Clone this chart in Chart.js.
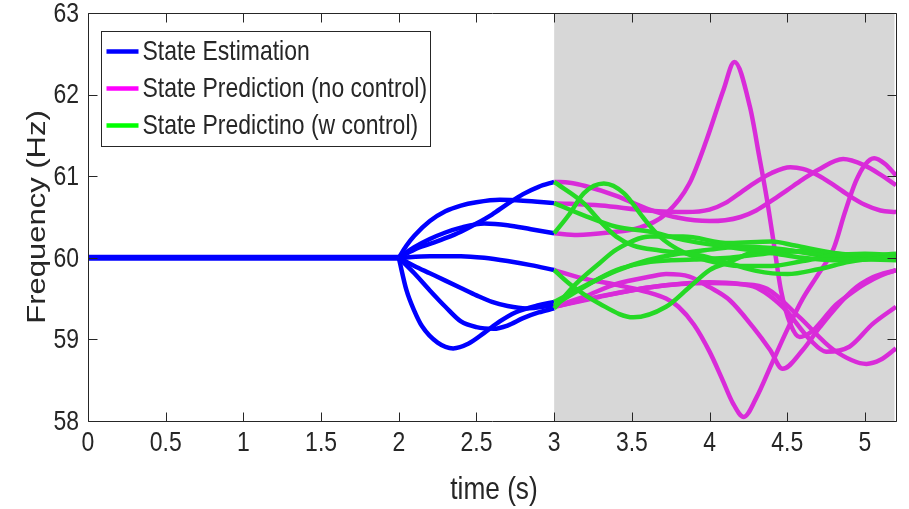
<!DOCTYPE html>
<html>
<head>
<meta charset="utf-8">
<script src="https://cdn.jsdelivr.net/npm/chart.js@4.4.1/dist/chart.umd.min.js"></script>
<style>
  html, body { margin: 0; padding: 0; background: #ffffff; }
  #wrap { width: 909px; height: 509px; }
</style>
</head>
<body>
<div id="wrap"><canvas id="c" width="909" height="509"></canvas></div>
<script>
// Axis ticks
const timeTicks = [0, 0.5, 1, 1.5, 2, 2.5, 3, 3.5, 4, 4.5, 5];
const freqTicks = [58, 59, 60, 61, 62, 63];
const timeRange = [0, 5.2];
const freqRange = [58, 63];
const predictionStart = 3;

// State estimation: steady part and the seven branches after the disturbance
const estSteady = [[0, 60], [2, 60]];
const est1 = [[2, 60], [2.1, 60.10], [2.2, 60.17], [2.3, 60.24], [2.4, 60.32], [2.5, 60.42], [2.6, 60.53], [2.7, 60.66], [2.8, 60.78], [2.9, 60.87], [3, 60.93]];
const est2 = [[2, 60], [2.05, 60.15], [2.1, 60.27], [2.2, 60.45], [2.3, 60.57], [2.4, 60.64], [2.5, 60.68], [2.65, 60.71], [2.8, 60.70], [3, 60.67]];
const est3 = [[2, 60], [2.1, 60.13], [2.2, 60.23], [2.3, 60.31], [2.4, 60.37], [2.55, 60.42], [2.7, 60.40], [2.85, 60.35], [3, 60.30]];
const est4 = [[2, 60], [2.2, 60.02], [2.4, 60.02], [2.55, 60.0], [2.7, 59.96], [2.85, 59.91], [3, 59.85]];
const est5 = [[2, 60], [2.1, 59.90], [2.2, 59.81], [2.3, 59.72], [2.4, 59.63], [2.5, 59.54], [2.6, 59.46], [2.7, 59.41], [2.82, 59.38], [3, 59.42]];
const est6 = [[2, 60], [2.1, 59.81], [2.2, 59.60], [2.3, 59.40], [2.4, 59.22], [2.5, 59.15], [2.61, 59.13], [2.7, 59.17], [2.8, 59.26], [2.9, 59.33], [3, 59.38]];
const est7 = [[2, 60], [2.05, 59.60], [2.1, 59.35], [2.15, 59.16], [2.25, 58.96], [2.35, 58.89], [2.45, 58.95], [2.55, 59.08], [2.65, 59.22], [2.75, 59.33], [2.9, 59.42], [3, 59.46]];

// State prediction without control
const free1 = [[3, 60.93], [3.1, 60.92], [3.2, 60.88], [3.4, 60.76], [3.6, 60.60], [3.8, 60.49], [4.0, 60.45], [4.1, 60.46], [4.2, 60.50], [4.3, 60.58], [4.4, 60.70], [4.5, 60.83], [4.6, 60.96], [4.7, 61.08], [4.86, 61.21], [5.0, 61.13], [5.1, 61.02], [5.2, 60.89]];
const free2 = [[3, 60.67], [3.3, 60.64], [3.6, 60.58], [3.85, 60.56], [4.0, 60.59], [4.1, 60.67], [4.2, 60.80], [4.3, 60.93], [4.4, 61.04], [4.52, 61.11], [4.6, 61.09], [4.7, 61.01], [4.8, 60.89], [4.9, 60.76], [5.0, 60.65], [5.1, 60.58], [5.2, 60.56]];
const free3 = [[3, 60.30], [3.15, 60.28], [3.35, 60.31], [3.55, 60.37], [3.72, 60.54], [3.87, 60.91], [3.98, 61.44], [4.09, 62.06], [4.16, 62.40], [4.26, 61.85], [4.32, 61.24], [4.37, 60.71], [4.41, 60.22], [4.46, 59.60], [4.52, 59.19], [4.58, 59.03], [4.66, 59.10], [4.72, 59.22], [4.80, 59.40], [4.9, 59.55], [5.0, 59.68], [5.1, 59.78], [5.2, 59.85]];
const free4 = [[3, 59.85], [3.18, 59.75], [3.4, 59.67], [3.6, 59.58], [3.72, 59.50], [3.8, 59.40], [3.9, 59.18], [4.0, 58.85], [4.08, 58.52], [4.15, 58.22], [4.22, 58.05], [4.3, 58.28], [4.4, 58.70], [4.5, 59.12], [4.6, 59.50], [4.7, 59.80], [4.8, 60.12], [4.87, 60.55], [4.94, 60.93], [5.0, 61.14], [5.06, 61.22], [5.13, 61.15], [5.2, 61.01]];
const free5 = [[3, 59.40], [3.19, 59.52], [3.40, 59.68], [3.62, 59.77], [3.72, 59.80], [3.87, 59.77], [4.0, 59.64], [4.13, 59.48], [4.28, 59.15], [4.39, 58.87], [4.47, 58.64], [4.60, 58.87], [4.71, 59.15], [4.92, 59.60], [5.05, 59.76], [5.2, 59.85]];
const free6 = [[3, 59.40], [3.29, 59.52], [3.62, 59.64], [4.0, 59.69], [4.26, 59.66], [4.47, 59.40], [4.65, 58.99], [4.75, 58.85], [4.90, 58.91], [5.05, 59.19], [5.2, 59.40]];
const free7 = [[3, 59.40], [3.3, 59.53], [3.62, 59.64], [4.0, 59.70], [4.2, 59.68], [4.37, 59.62], [4.58, 59.27], [4.80, 58.87], [5.01, 58.70], [5.1, 58.75], [5.2, 58.89]];

// State prediction with control
const ctrl1 = [[3, 60.93], [3.19, 60.67], [3.29, 60.46], [3.40, 60.26], [3.51, 60.15], [3.68, 60.09], [3.94, 60.03], [4.13, 59.93], [4.3, 59.84], [4.5, 59.80], [4.7, 59.86], [4.9, 59.95], [5.2, 60.02]];
const ctrl2 = [[3, 60.67], [3.19, 60.52], [3.40, 60.38], [3.62, 60.32], [3.83, 60.22], [4.13, 60.13], [4.4, 60.06], [4.6, 60.00], [4.8, 59.97], [5.0, 59.98], [5.2, 60.01]];
const ctrl3 = [[3, 60.30], [3.10, 60.54], [3.19, 60.79], [3.32, 60.91], [3.45, 60.79], [3.57, 60.50], [3.68, 60.26], [3.83, 60.07], [3.98, 59.97], [4.2, 59.90], [4.4, 59.90], [4.6, 59.96], [4.8, 60.03], [5.0, 60.05], [5.2, 60.03]];
const ctrl4 = [[3, 59.85], [3.10, 59.68], [3.29, 59.44], [3.51, 59.27], [3.72, 59.40], [3.87, 59.64], [4.0, 59.85], [4.13, 59.95], [4.3, 60.08], [4.45, 60.10], [4.65, 60.05], [4.9, 59.99], [5.2, 59.97]];
const ctrl5 = [[3, 59.42], [3.19, 59.64], [3.40, 59.85], [3.62, 59.95], [3.9, 59.98], [4.13, 60.0], [4.4, 60.06], [4.6, 60.08], [4.8, 60.05], [5.0, 60.02], [5.2, 60.0]];
const ctrl6 = [[3, 59.38], [3.14, 59.68], [3.29, 59.93], [3.40, 60.10], [3.62, 60.26], [3.83, 60.26], [4.13, 60.18], [4.4, 60.20], [4.55, 60.15], [4.8, 60.06], [5.0, 60.03], [5.2, 60.05]];
const ctrl7 = [[3, 59.46], [3.2, 59.66], [3.4, 59.84], [3.6, 59.97], [3.8, 60.05], [4.0, 60.10], [4.2, 60.14], [4.4, 60.12], [4.6, 60.07], [4.8, 60.02], [5.0, 59.99], [5.2, 60.0]];

const legendLabels = ['State Estimation', 'State Prediction (no control)', 'State Predictino (w control)'];
const xTitle = 'time (s)';
const yTitle = 'Frequency (Hz)';

const BLUE = '#0000FF';
const MAGENTA_LINE = '#D92BD9';
const GREEN_LINE = '#25D925';
const LEGEND_COLORS = ['#0000FF', '#FF00FF', '#00FF00'];
const INK = '#262626';

// Pick a condensed face if it exists, otherwise squeeze the regular one
const probe = document.createElement('canvas').getContext('2d');
probe.font = "28px 'Liberation Sans Narrow', monospace";
const wNarrow = probe.measureText('State Estimation').width;
probe.font = "28px monospace";
const wMono = probe.measureText('State Estimation').width;
const hasNarrow = Math.abs(wNarrow - wMono) > 0.5;
const FACE = hasNarrow ? "'Liberation Sans Narrow'" : "'Liberation Sans', Arial, sans-serif";
const SQUEEZE = hasNarrow ? 1 : 0.82;
const CONDENSE = 0.82;

function drawText(ctx, str, x, y, size, align, baseline) {
  ctx.save();
  ctx.translate(x, y);
  ctx.scale(SQUEEZE, 1);
  ctx.font = size + 'px ' + FACE;
  ctx.fillStyle = INK;
  ctx.textAlign = align;
  ctx.textBaseline = baseline;
  ctx.fillText(str, 0, 0);
  ctx.restore();
}

// Vertical title: regular face, glyphs thinned across the page
function drawVerticalText(ctx, str, x, y, size) {
  ctx.save();
  ctx.translate(x, y);
  ctx.scale(CONDENSE, 1);
  ctx.rotate(-Math.PI / 2);
  ctx.font = size + "px 'Liberation Sans', Arial, sans-serif";
  ctx.fillStyle = INK;
  ctx.textAlign = 'center';
  ctx.textBaseline = 'middle';
  ctx.fillText(str, 0, 0);
  ctx.restore();
}

const toXY = pts => pts.map(([x, y]) => ({ x, y }));
function series(pts, color, width) {
  return {
    data: toXY(pts),
    borderColor: color,
    borderWidth: width,
    pointRadius: 0,
    fill: false,
    cubicInterpolationMode: 'monotone',
    borderCapStyle: 'butt',
    borderJoinStyle: 'round'
  };
}

const datasets = [
  ...[ctrl1, ctrl2, ctrl3, ctrl4, ctrl5, ctrl6, ctrl7].map(p => series(p, GREEN_LINE, 4.5)),
  ...[free1, free2, free3, free4, free5, free6, free7].map(p => series(p, MAGENTA_LINE, 4.5)),
  ...[est1, est2, est3, est4, est5, est6, est7].map(p => series(p, BLUE, 4.5)),
  series(estSteady, BLUE, 6)
];

const framePlugin = {
  id: 'frame',
  beforeDatasetsDraw(chart) {
    const { ctx, chartArea: a, scales: { x } } = chart;
    const xs = x.getPixelForValue(predictionStart);
    ctx.save();
    ctx.fillStyle = '#D7D7D7';
    ctx.fillRect(xs, a.top, a.right - xs - 1.5, a.bottom - a.top);
    ctx.restore();
  },
  afterDatasetsDraw(chart) {
    const { ctx, chartArea: a, scales: { x, y } } = chart;
    const L = Math.round(a.left) + 0.5, R = Math.round(a.right) + 0.5;
    const T = Math.round(a.top) + 0.5, B = Math.round(a.bottom) + 0.5;
    ctx.save();
    ctx.strokeStyle = INK;
    ctx.lineWidth = 1;
    ctx.beginPath();
    ctx.rect(L, T, R - L, B - T);
    // inward ticks on all four sides
    const tl = 9;
    timeTicks.forEach(t => {
      const px = Math.round(x.getPixelForValue(t)) + 0.5;
      ctx.moveTo(px, B); ctx.lineTo(px, B - tl);
      ctx.moveTo(px, T); ctx.lineTo(px, T + tl);
    });
    freqTicks.forEach(f => {
      const py = Math.round(y.getPixelForValue(f)) + 0.5;
      ctx.moveTo(L, py); ctx.lineTo(L + tl, py);
      ctx.moveTo(R, py); ctx.lineTo(R - tl, py);
    });
    ctx.stroke();
    ctx.restore();

    // tick labels
    timeTicks.forEach(t => drawText(ctx, String(t), x.getPixelForValue(t), a.bottom + 8, 28, 'center', 'top'));
    freqTicks.forEach(f => drawText(ctx, String(f), a.left - 9, y.getPixelForValue(f) + 1, 28, 'right', 'middle'));

    // axis titles
    drawText(ctx, xTitle, (a.left + a.right) / 2 + 2, 490, 32, 'center', 'middle');
    drawVerticalText(ctx, yTitle, 38, (a.top + a.bottom) / 2, 31);

    // legend
    const bx = 101.5, by = 31.5, bw = 329, bh = 115;
    ctx.save();
    ctx.fillStyle = '#FFFFFF';
    ctx.fillRect(bx, by, bw, bh);
    ctx.strokeStyle = '#262626';
    ctx.lineWidth = 1;
    ctx.strokeRect(bx, by, bw, bh);
    const rows = [51.5, 88.5, 125.5];
    rows.forEach((ry, i) => {
      ctx.strokeStyle = LEGEND_COLORS[i];
      ctx.lineWidth = 4.5;
      ctx.beginPath();
      ctx.moveTo(106.5, ry);
      ctx.lineTo(138.5, ry);
      ctx.stroke();
    });
    ctx.restore();
    rows.forEach((ry, i) => drawText(ctx, legendLabels[i], 142.5, ry + 1, 28, 'left', 'middle'));
  }
};

new Chart(document.getElementById('c'), {
  type: 'line',
  data: { datasets },
  options: {
    responsive: false,
    animation: false,
    layout: { padding: { left: 0, top: 13, right: 13, bottom: 0 } },
    plugins: { legend: { display: false }, tooltip: { enabled: false } },
    scales: {
      x: {
        type: 'linear', min: timeRange[0], max: timeRange[1],
        grid: { display: false }, border: { display: false },
        ticks: { display: false },
        afterFit(s) { s.height = 88; }
      },
      y: {
        type: 'linear', min: freqRange[0], max: freqRange[1],
        grid: { display: false }, border: { display: false },
        ticks: { display: false },
        afterFit(s) { s.width = 88; }
      }
    }
  },
  plugins: [framePlugin]
});
</script>
</body>
</html>
